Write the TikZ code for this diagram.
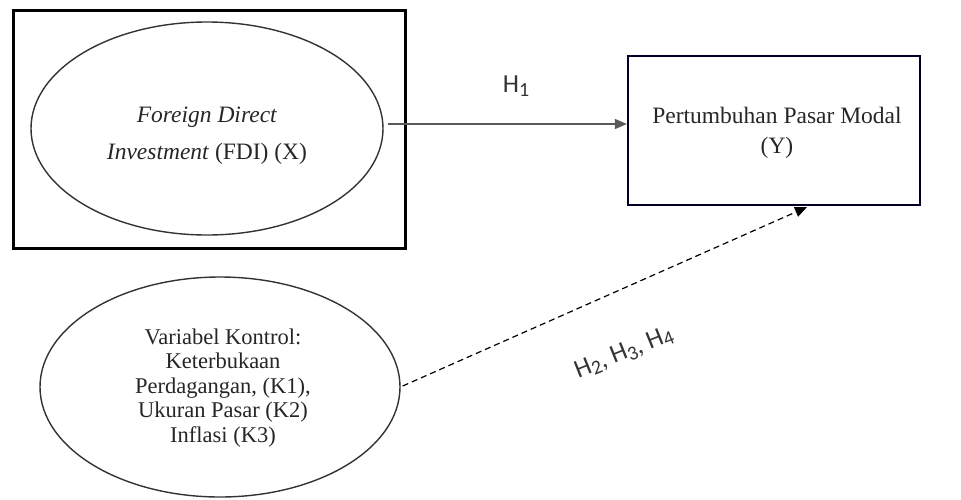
\documentclass[tikz,border=0pt]{standalone}
\usepackage{fontspec}
\setmainfont{Liberation Serif}
\newfontfamily\calib{Carlito}
\usetikzlibrary{shapes.geometric,arrows.meta,calc}
\newcommand{\hsub}[1]{\raisebox{-0.14em}{\fontsize{20}{20}\selectfont #1}}
\begin{document}
\begin{tikzpicture}[x=1pt,y=-1pt,
  ell/.style={draw=black!80, line width=1.4pt, ellipse, inner sep=0pt},
  etext/.style={align=center, text=black!85, inner sep=0pt},
  outerbox/.style={draw=black, line width=3pt, inner sep=0pt},
  ybox/.style={draw=black!75!blue!60!black, line width=2.2pt, inner sep=0pt},
  arr/.style={-{Triangle[length=12pt,width=10pt]}},
  hlab/.style={font=\calib\fontsize{26}{26}\selectfont, text=black!80, inner sep=1pt}
]
\useasboundingbox (0,0) rectangle (961,499);
\node[outerbox, minimum width=392pt, minimum height=238pt] (outer) at (209,129) {};
\node[ell, minimum width=352pt, minimum height=213pt] (fdi) at (207,128.5) {};
\node[etext, font=\fontsize{23.5}{37}\selectfont] (fditext) at ($(fdi.center)+(0,7)$)
  {\textit{Foreign Direct}\\\textit{Investment} (FDI) (X)};
\node[ybox, minimum width=292pt, minimum height=149pt] (y) at (774,130.5) {};
\node[etext, font=\fontsize{23.5}{30}\selectfont] (ytext) at ($(y.center)+(3,2.5)$)
  {Pertumbuhan Pasar Modal\\(Y)};
\node[ell, minimum width=360pt, minimum height=220pt] (ctrl) at (220,387) {};
\node[etext, font=\fontsize{22.5}{24.5}\selectfont] (ctrltext) at ($(ctrl.center)+(3,1)$)
  {Variabel Kontrol:\\Keterbukaan\\Perdagangan, (K1),\\Ukuran Pasar (K2)\\Inflasi (K3)};
\coordinate (a1) at ($(fdi.east)+(4,-4.5)$);
\draw[arr, draw=black!65, line width=1.4pt] (a1) -- (y.west |- a1);
\node[hlab] (h1) at (516,86) {H\hsub{1}};
\draw[arr, dashed, dash pattern=on 6pt off 4pt, line width=1.2pt] ($(ctrl.east)+(2,-1)$) -- ($(y.south)+(33,1)$);
\node[hlab, rotate=22] (h234) at (624,353) {H\hsub{2}, H\hsub{3}, H\hsub{4}};
\end{tikzpicture}
\end{document}
